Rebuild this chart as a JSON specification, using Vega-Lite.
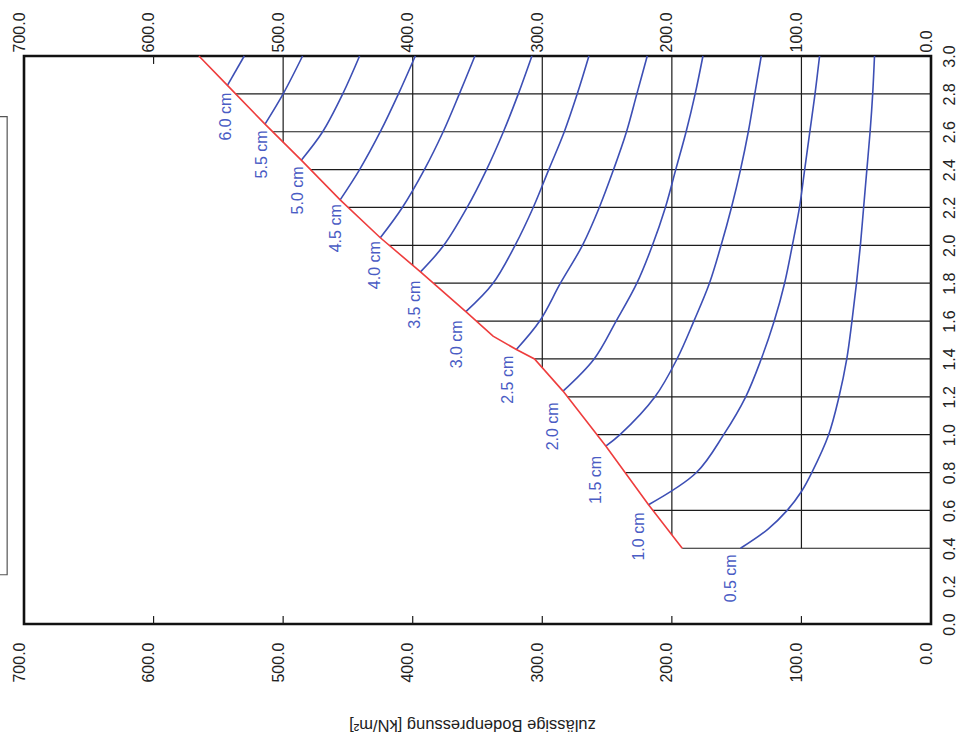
{
  "$schema": "https://vega.github.io/schema/vega-lite/v6.json",
  "width": 907,
  "height": 568,
  "autosize": {"type": "none"},
  "padding": {"left": 24, "top": 56, "right": 30, "bottom": 118},
  "background": "white",
  "config": {
    "view": {"stroke": "#111111", "strokeWidth": 2.6},
    "font": "Liberation Sans",
    "axis": {"labelFont": "Liberation Sans", "titleFont": "Liberation Sans", "labelColor": "#222222", "titleColor": "#222222"}
  },
  "datasets": {
    "grid": [
      {"p": 0, "p2": 192, "b": 0.4, "b2": 0.4},
      {"p": 0, "p2": 214.6, "b": 0.6, "b2": 0.6},
      {"p": 0, "p2": 236, "b": 0.8, "b2": 0.8},
      {"p": 0, "p2": 257.8, "b": 1.0, "b2": 1.0},
      {"p": 0, "p2": 280.6, "b": 1.2, "b2": 1.2},
      {"p": 0, "p2": 306, "b": 1.4, "b2": 1.4},
      {"p": 0, "p2": 351, "b": 1.6, "b2": 1.6},
      {"p": 0, "p2": 384, "b": 1.8, "b2": 1.8},
      {"p": 0, "p2": 418, "b": 2.0, "b2": 2.0},
      {"p": 0, "p2": 449.8, "b": 2.2, "b2": 2.2},
      {"p": 0, "p2": 478.9, "b": 2.4, "b2": 2.4},
      {"p": 0, "p2": 508, "b": 2.6, "b2": 2.6},
      {"p": 0, "p2": 536.6, "b": 2.8, "b2": 2.8},
      {"p": 100, "p2": 100, "b": 0.4, "b2": 3.0},
      {"p": 200, "p2": 200, "b": 0.47, "b2": 3.0},
      {"p": 300, "p2": 300, "b": 1.354, "b2": 3.0},
      {"p": 400, "p2": 400, "b": 1.895, "b2": 3.0},
      {"p": 500, "p2": 500, "b": 2.545, "b2": 3.0},
      {"p": 100, "p2": 100, "b": 0, "b2": 0.042},
      {"p": 200, "p2": 200, "b": 0, "b2": 0.042},
      {"p": 300, "p2": 300, "b": 0, "b2": 0.042},
      {"p": 400, "p2": 400, "b": 0, "b2": 0.042},
      {"p": 500, "p2": 500, "b": 0, "b2": 0.042},
      {"p": 600, "p2": 600, "b": 0, "b2": 0.042},
      {"p": 600, "p2": 600, "b": 2.958, "b2": 3.0}
    ],
    "curves": [
      {"s": "0.5 cm", "o": 0, "p": 147, "b": 0.4},
      {"s": "0.5 cm", "o": 1, "p": 126, "b": 0.5},
      {"s": "0.5 cm", "o": 2, "p": 111, "b": 0.6},
      {"s": "0.5 cm", "o": 3, "p": 100, "b": 0.7},
      {"s": "0.5 cm", "o": 4, "p": 92, "b": 0.8},
      {"s": "0.5 cm", "o": 5, "p": 79, "b": 1.0},
      {"s": "0.5 cm", "o": 6, "p": 71, "b": 1.2},
      {"s": "0.5 cm", "o": 7, "p": 65, "b": 1.4},
      {"s": "0.5 cm", "o": 8, "p": 61, "b": 1.6},
      {"s": "0.5 cm", "o": 9, "p": 57.5, "b": 1.8},
      {"s": "0.5 cm", "o": 10, "p": 54.5, "b": 2.0},
      {"s": "0.5 cm", "o": 11, "p": 52, "b": 2.2},
      {"s": "0.5 cm", "o": 12, "p": 49.5, "b": 2.4},
      {"s": "0.5 cm", "o": 13, "p": 47, "b": 2.6},
      {"s": "0.5 cm", "o": 14, "p": 45, "b": 2.8},
      {"s": "0.5 cm", "o": 15, "p": 43.6, "b": 3.0},
      {"s": "1.0 cm", "o": 0, "p": 218, "b": 0.63},
      {"s": "1.0 cm", "o": 1, "p": 181, "b": 0.8},
      {"s": "1.0 cm", "o": 2, "p": 160, "b": 1.0},
      {"s": "1.0 cm", "o": 3, "p": 143, "b": 1.2},
      {"s": "1.0 cm", "o": 4, "p": 131, "b": 1.4},
      {"s": "1.0 cm", "o": 5, "p": 121, "b": 1.6},
      {"s": "1.0 cm", "o": 6, "p": 113, "b": 1.8},
      {"s": "1.0 cm", "o": 7, "p": 107, "b": 2.0},
      {"s": "1.0 cm", "o": 8, "p": 101.5, "b": 2.2},
      {"s": "1.0 cm", "o": 9, "p": 97.5, "b": 2.4},
      {"s": "1.0 cm", "o": 10, "p": 93.5, "b": 2.6},
      {"s": "1.0 cm", "o": 11, "p": 89.5, "b": 2.8},
      {"s": "1.0 cm", "o": 12, "p": 86, "b": 3.0},
      {"s": "1.5 cm", "o": 0, "p": 251, "b": 0.94},
      {"s": "1.5 cm", "o": 1, "p": 240, "b": 1.0},
      {"s": "1.5 cm", "o": 2, "p": 213, "b": 1.2},
      {"s": "1.5 cm", "o": 3, "p": 196, "b": 1.4},
      {"s": "1.5 cm", "o": 4, "p": 183, "b": 1.6},
      {"s": "1.5 cm", "o": 5, "p": 171, "b": 1.8},
      {"s": "1.5 cm", "o": 6, "p": 162, "b": 2.0},
      {"s": "1.5 cm", "o": 7, "p": 154, "b": 2.2},
      {"s": "1.5 cm", "o": 8, "p": 147, "b": 2.4},
      {"s": "1.5 cm", "o": 9, "p": 141, "b": 2.6},
      {"s": "1.5 cm", "o": 10, "p": 136, "b": 2.8},
      {"s": "1.5 cm", "o": 11, "p": 131, "b": 3.0},
      {"s": "2.0 cm", "o": 0, "p": 284, "b": 1.23},
      {"s": "2.0 cm", "o": 1, "p": 260, "b": 1.4},
      {"s": "2.0 cm", "o": 2, "p": 243, "b": 1.6},
      {"s": "2.0 cm", "o": 3, "p": 227, "b": 1.8},
      {"s": "2.0 cm", "o": 4, "p": 215, "b": 2.0},
      {"s": "2.0 cm", "o": 5, "p": 205, "b": 2.2},
      {"s": "2.0 cm", "o": 6, "p": 197, "b": 2.4},
      {"s": "2.0 cm", "o": 7, "p": 189, "b": 2.6},
      {"s": "2.0 cm", "o": 8, "p": 182, "b": 2.8},
      {"s": "2.0 cm", "o": 9, "p": 176, "b": 3.0},
      {"s": "2.5 cm", "o": 0, "p": 320, "b": 1.45},
      {"s": "2.5 cm", "o": 1, "p": 302, "b": 1.6},
      {"s": "2.5 cm", "o": 2, "p": 286, "b": 1.8},
      {"s": "2.5 cm", "o": 3, "p": 269, "b": 2.0},
      {"s": "2.5 cm", "o": 4, "p": 256, "b": 2.2},
      {"s": "2.5 cm", "o": 5, "p": 245, "b": 2.4},
      {"s": "2.5 cm", "o": 6, "p": 235, "b": 2.6},
      {"s": "2.5 cm", "o": 7, "p": 227, "b": 2.8},
      {"s": "2.5 cm", "o": 8, "p": 219, "b": 3.0},
      {"s": "3.0 cm", "o": 0, "p": 359, "b": 1.65},
      {"s": "3.0 cm", "o": 1, "p": 338, "b": 1.8},
      {"s": "3.0 cm", "o": 2, "p": 321, "b": 2.0},
      {"s": "3.0 cm", "o": 3, "p": 307, "b": 2.2},
      {"s": "3.0 cm", "o": 4, "p": 295, "b": 2.4},
      {"s": "3.0 cm", "o": 5, "p": 283, "b": 2.6},
      {"s": "3.0 cm", "o": 6, "p": 273, "b": 2.8},
      {"s": "3.0 cm", "o": 7, "p": 264, "b": 3.0},
      {"s": "3.5 cm", "o": 0, "p": 394, "b": 1.86},
      {"s": "3.5 cm", "o": 1, "p": 376, "b": 2.0},
      {"s": "3.5 cm", "o": 2, "p": 358, "b": 2.2},
      {"s": "3.5 cm", "o": 3, "p": 343, "b": 2.4},
      {"s": "3.5 cm", "o": 4, "p": 330, "b": 2.6},
      {"s": "3.5 cm", "o": 5, "p": 318.5, "b": 2.8},
      {"s": "3.5 cm", "o": 6, "p": 308, "b": 3.0},
      {"s": "4.0 cm", "o": 0, "p": 425, "b": 2.04},
      {"s": "4.0 cm", "o": 1, "p": 408, "b": 2.2},
      {"s": "4.0 cm", "o": 2, "p": 391, "b": 2.4},
      {"s": "4.0 cm", "o": 3, "p": 376.5, "b": 2.6},
      {"s": "4.0 cm", "o": 4, "p": 364, "b": 2.8},
      {"s": "4.0 cm", "o": 5, "p": 352, "b": 3.0},
      {"s": "4.5 cm", "o": 0, "p": 456, "b": 2.24},
      {"s": "4.5 cm", "o": 1, "p": 441, "b": 2.4},
      {"s": "4.5 cm", "o": 2, "p": 425, "b": 2.6},
      {"s": "4.5 cm", "o": 3, "p": 411, "b": 2.8},
      {"s": "4.5 cm", "o": 4, "p": 398, "b": 3.0},
      {"s": "5.0 cm", "o": 0, "p": 486, "b": 2.45},
      {"s": "5.0 cm", "o": 1, "p": 469.5, "b": 2.6},
      {"s": "5.0 cm", "o": 2, "p": 454, "b": 2.8},
      {"s": "5.0 cm", "o": 3, "p": 441, "b": 3.0},
      {"s": "5.5 cm", "o": 0, "p": 514, "b": 2.64},
      {"s": "5.5 cm", "o": 1, "p": 500, "b": 2.8},
      {"s": "5.5 cm", "o": 2, "p": 485, "b": 3.0},
      {"s": "6.0 cm", "o": 0, "p": 543, "b": 2.845},
      {"s": "6.0 cm", "o": 1, "p": 530, "b": 3.0}
    ],
    "boundary": [
      {"o": 0, "p": 192, "b": 0.4},
      {"o": 1, "p": 218, "b": 0.63},
      {"o": 2, "p": 251, "b": 0.94},
      {"o": 3, "p": 284, "b": 1.23},
      {"o": 4, "p": 306, "b": 1.40},
      {"o": 5, "p": 320, "b": 1.45},
      {"o": 6, "p": 338, "b": 1.52},
      {"o": 7, "p": 359, "b": 1.65},
      {"o": 8, "p": 394, "b": 1.86},
      {"o": 9, "p": 425, "b": 2.04},
      {"o": 10, "p": 456, "b": 2.24},
      {"o": 11, "p": 486, "b": 2.45},
      {"o": 12, "p": 514, "b": 2.64},
      {"o": 13, "p": 543, "b": 2.845},
      {"o": 14, "p": 565, "b": 3.0}
    ],
    "labels": [
      {"t": "6.0 cm", "p": 544, "b": 2.68},
      {"t": "5.5 cm", "p": 516.6, "b": 2.48},
      {"t": "5.0 cm", "p": 488.8, "b": 2.29},
      {"t": "4.5 cm", "p": 459.5, "b": 2.09},
      {"t": "4.0 cm", "p": 429, "b": 1.895},
      {"t": "3.5 cm", "p": 398, "b": 1.686},
      {"t": "3.0 cm", "p": 366, "b": 1.477},
      {"t": "2.5 cm", "p": 326.6, "b": 1.29},
      {"t": "2.0 cm", "p": 292, "b": 1.044},
      {"t": "1.5 cm", "p": 258.7, "b": 0.761},
      {"t": "1.0 cm", "p": 225.5, "b": 0.462},
      {"t": "0.5 cm", "p": 154.4, "b": 0.241}
    ],
    "box": [
      {"p": 713, "p2": 780, "b": 0.26, "b2": 2.68}
    ]
  },
  "resolve": {"axis": {"x": "independent", "y": "independent"}},
  "layer": [
    {
      "data": {"name": "grid"},
      "mark": {"type": "rule", "color": "#1c1c1c", "strokeWidth": 1.2},
      "encoding": {
        "x": {
          "field": "p", "type": "quantitative",
          "scale": {"domain": [0, 700], "reverse": true, "nice": false, "zero": false},
          "axis": {
            "orient": "bottom",
            "values": [0, 100, 200, 300, 400, 500, 600, 700],
            "format": ".1f",
            "labelAngle": 270,
            "labelAlign": "right",
            "labelBaseline": "alphabetic",
            "labelPadding": 18,
            "labelFontSize": 16,
            "labelFlush": false,
            "labelOverlap": false,
            "ticks": false,
            "domain": false,
            "grid": false,
            "title": "zulässige Bodenpressung [kN/m²]",
            "titleAngle": 180,
            "titleFontSize": 16.5,
            "titleFontWeight": "normal",
            "titleBaseline": "bottom",
            "titleAlign": "center",
            "titleX": 448,
            "titleY": 92
          }
        },
        "x2": {"field": "p2"},
        "y": {
          "field": "b", "type": "quantitative",
          "scale": {"domain": [0, 3], "nice": false, "zero": false},
          "axis": {
            "orient": "right",
            "values": [0, 0.2, 0.4, 0.6, 0.8, 1.0, 1.2, 1.4, 1.6, 1.8, 2.0, 2.2, 2.4, 2.6, 2.8, 3.0],
            "format": ".1f",
            "labelAngle": 270,
            "labelAlign": "center",
            "labelBaseline": "top",
            "labelPadding": 10,
            "labelFontSize": 16,
            "labelFlush": false,
            "labelOverlap": false,
            "ticks": false,
            "domain": false,
            "grid": false,
            "title": null
          }
        },
        "y2": {"field": "b2"}
      }
    },
    {
      "data": {"name": "box"},
      "mark": {"type": "rect", "fill": null, "stroke": "#555555", "strokeWidth": 1.2},
      "encoding": {
        "x": {"field": "p", "type": "quantitative", "axis": null},
        "x2": {"field": "p2"},
        "y": {"field": "b", "type": "quantitative", "axis": null},
        "y2": {"field": "b2"}
      }
    },
    {
      "data": {"name": "curves"},
      "mark": {"type": "line", "color": "#3d4fb5", "strokeWidth": 1.6, "interpolate": "catmull-rom"},
      "encoding": {
        "x": {
          "field": "p", "type": "quantitative",
          "axis": {
            "orient": "top",
            "values": [0, 100, 200, 300, 400, 500, 600, 700],
            "format": ".1f",
            "labelAngle": 270,
            "labelAlign": "left",
            "labelBaseline": "alphabetic",
            "labelPadding": 4,
            "labelFontSize": 16,
            "labelFlush": false,
            "labelOverlap": false,
            "ticks": false,
            "domain": false,
            "grid": false,
            "title": null
          }
        },
        "y": {"field": "b", "type": "quantitative", "axis": null},
        "detail": {"field": "s", "type": "nominal"},
        "order": {"field": "o", "type": "quantitative"}
      }
    },
    {
      "data": {"name": "boundary"},
      "mark": {"type": "line", "color": "#ee3d3d", "strokeWidth": 1.6},
      "encoding": {
        "x": {"field": "p", "type": "quantitative", "axis": null},
        "y": {"field": "b", "type": "quantitative", "axis": null},
        "order": {"field": "o", "type": "quantitative"}
      }
    },
    {
      "data": {"name": "labels"},
      "mark": {"type": "text", "angle": 270, "align": "center", "baseline": "middle", "fontSize": 16, "color": "#4a5cc4", "font": "Liberation Sans"},
      "encoding": {
        "x": {"field": "p", "type": "quantitative", "axis": null},
        "y": {"field": "b", "type": "quantitative", "axis": null},
        "text": {"field": "t", "type": "nominal"}
      }
    }
  ]
}
